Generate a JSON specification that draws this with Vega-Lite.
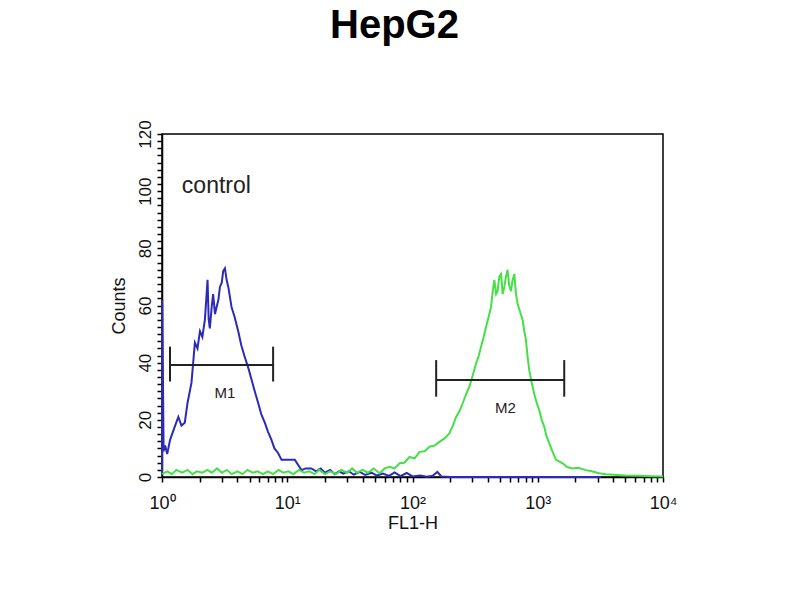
{
  "$schema": "https://vega.github.io/schema/vega-lite/v6.json",
  "description": "HepG2 flow cytometry histogram, control vs stained",
  "width": 501,
  "height": 343,
  "autosize": {"type": "none"},
  "padding": {"left": 162, "top": 134, "right": 137, "bottom": 123},
  "background": "white",
  "title": {
    "text": "HepG2",
    "font": "Liberation Sans",
    "fontSize": 40,
    "fontWeight": "bold",
    "color": "black",
    "anchor": "middle",
    "frame": "group",
    "baseline": "alphabetic",
    "dx": -18,
    "offset": 42
  },
  "config": {
    "font": "Liberation Sans",
    "view": {"stroke": "black", "strokeWidth": 1.5}
  },
  "datasets": {
    "hist": [
      {"series": "control", "fl": 1, "count": 1},
      {"series": "control", "fl": 1.005, "count": 62},
      {"series": "control", "fl": 1.03, "count": 9},
      {"series": "control", "fl": 1.06, "count": 11},
      {"series": "control", "fl": 1.1, "count": 8},
      {"series": "control", "fl": 1.16, "count": 13},
      {"series": "control", "fl": 1.25, "count": 17},
      {"series": "control", "fl": 1.35, "count": 21},
      {"series": "control", "fl": 1.43, "count": 18},
      {"series": "control", "fl": 1.52, "count": 19},
      {"series": "control", "fl": 1.6, "count": 26},
      {"series": "control", "fl": 1.72, "count": 33},
      {"series": "control", "fl": 1.83, "count": 47},
      {"series": "control", "fl": 1.92, "count": 45},
      {"series": "control", "fl": 2.01, "count": 51},
      {"series": "control", "fl": 2.1, "count": 49},
      {"series": "control", "fl": 2.2, "count": 55},
      {"series": "control", "fl": 2.31, "count": 69},
      {"series": "control", "fl": 2.36, "count": 55},
      {"series": "control", "fl": 2.41, "count": 52},
      {"series": "control", "fl": 2.5, "count": 60},
      {"series": "control", "fl": 2.56, "count": 64},
      {"series": "control", "fl": 2.65, "count": 57},
      {"series": "control", "fl": 2.73, "count": 59.5},
      {"series": "control", "fl": 2.82, "count": 62},
      {"series": "control", "fl": 2.9, "count": 66.5},
      {"series": "control", "fl": 3.0, "count": 68},
      {"series": "control", "fl": 3.08, "count": 72},
      {"series": "control", "fl": 3.18, "count": 73},
      {"series": "control", "fl": 3.28, "count": 69},
      {"series": "control", "fl": 3.4, "count": 66},
      {"series": "control", "fl": 3.59, "count": 59.5},
      {"series": "control", "fl": 3.8, "count": 56},
      {"series": "control", "fl": 4.06, "count": 51},
      {"series": "control", "fl": 4.3, "count": 46},
      {"series": "control", "fl": 4.58, "count": 42},
      {"series": "control", "fl": 4.9, "count": 38},
      {"series": "control", "fl": 5.19, "count": 34},
      {"series": "control", "fl": 5.5, "count": 30},
      {"series": "control", "fl": 5.85, "count": 26},
      {"series": "control", "fl": 6.2, "count": 22},
      {"series": "control", "fl": 6.62, "count": 19},
      {"series": "control", "fl": 7.0, "count": 16},
      {"series": "control", "fl": 7.48, "count": 13},
      {"series": "control", "fl": 7.9, "count": 10},
      {"series": "control", "fl": 8.45, "count": 8.4},
      {"series": "control", "fl": 9.0, "count": 6},
      {"series": "control", "fl": 9.55, "count": 6},
      {"series": "control", "fl": 10.5, "count": 6},
      {"series": "control", "fl": 11.5, "count": 6},
      {"series": "control", "fl": 12.3, "count": 4},
      {"series": "control", "fl": 13.0, "count": 2.4},
      {"series": "control", "fl": 14, "count": 3},
      {"series": "control", "fl": 15.6, "count": 3},
      {"series": "control", "fl": 17, "count": 2},
      {"series": "control", "fl": 18.5, "count": 3},
      {"series": "control", "fl": 20, "count": 1.5},
      {"series": "control", "fl": 22, "count": 2.5},
      {"series": "control", "fl": 24, "count": 1},
      {"series": "control", "fl": 26, "count": 2},
      {"series": "control", "fl": 28, "count": 1.2},
      {"series": "control", "fl": 31, "count": 2},
      {"series": "control", "fl": 34, "count": 0.8},
      {"series": "control", "fl": 38, "count": 1.8},
      {"series": "control", "fl": 42, "count": 0.7},
      {"series": "control", "fl": 47, "count": 1.5},
      {"series": "control", "fl": 52, "count": 0.5},
      {"series": "control", "fl": 58, "count": 1.2},
      {"series": "control", "fl": 65, "count": 0.4},
      {"series": "control", "fl": 72, "count": 1.6},
      {"series": "control", "fl": 80, "count": 0.3},
      {"series": "control", "fl": 90, "count": 1.4},
      {"series": "control", "fl": 100, "count": 0.2},
      {"series": "control", "fl": 115, "count": 0.5},
      {"series": "control", "fl": 130, "count": 0.1},
      {"series": "control", "fl": 145, "count": 0.4},
      {"series": "control", "fl": 158, "count": 1.8},
      {"series": "control", "fl": 170, "count": 0.2},
      {"series": "control", "fl": 200, "count": 0},
      {"series": "control", "fl": 300, "count": 0},
      {"series": "control", "fl": 600, "count": 0},
      {"series": "control", "fl": 1000, "count": 0},
      {"series": "control", "fl": 2000, "count": 0},
      {"series": "control", "fl": 3200, "count": 0},
      {"series": "HepG2", "fl": 1, "count": 1},
      {"series": "HepG2", "fl": 1.1, "count": 2},
      {"series": "HepG2", "fl": 1.2, "count": 1},
      {"series": "HepG2", "fl": 1.3, "count": 2.5},
      {"series": "HepG2", "fl": 1.45, "count": 1.5},
      {"series": "HepG2", "fl": 1.6, "count": 2.5},
      {"series": "HepG2", "fl": 1.75, "count": 1},
      {"series": "HepG2", "fl": 1.9, "count": 2},
      {"series": "HepG2", "fl": 2.1, "count": 1.5},
      {"series": "HepG2", "fl": 2.3, "count": 2.5},
      {"series": "HepG2", "fl": 2.5, "count": 1.5},
      {"series": "HepG2", "fl": 2.75, "count": 3},
      {"series": "HepG2", "fl": 3.0, "count": 1.5},
      {"series": "HepG2", "fl": 3.3, "count": 2.5},
      {"series": "HepG2", "fl": 3.6, "count": 1},
      {"series": "HepG2", "fl": 4.0, "count": 2},
      {"series": "HepG2", "fl": 4.4, "count": 1},
      {"series": "HepG2", "fl": 4.8, "count": 2.5},
      {"series": "HepG2", "fl": 5.3, "count": 1.5},
      {"series": "HepG2", "fl": 5.8, "count": 2},
      {"series": "HepG2", "fl": 6.4, "count": 1},
      {"series": "HepG2", "fl": 7.0, "count": 2},
      {"series": "HepG2", "fl": 7.7, "count": 1},
      {"series": "HepG2", "fl": 8.5, "count": 2.5},
      {"series": "HepG2", "fl": 9.3, "count": 1.5},
      {"series": "HepG2", "fl": 10.2, "count": 2},
      {"series": "HepG2", "fl": 11.2, "count": 1},
      {"series": "HepG2", "fl": 12.4, "count": 2.5},
      {"series": "HepG2", "fl": 13.6, "count": 1.5},
      {"series": "HepG2", "fl": 15, "count": 2},
      {"series": "HepG2", "fl": 16.5, "count": 1},
      {"series": "HepG2", "fl": 18, "count": 2.5},
      {"series": "HepG2", "fl": 20, "count": 1},
      {"series": "HepG2", "fl": 22, "count": 2},
      {"series": "HepG2", "fl": 24.5, "count": 1},
      {"series": "HepG2", "fl": 27, "count": 2.5},
      {"series": "HepG2", "fl": 30, "count": 1.5},
      {"series": "HepG2", "fl": 33, "count": 3},
      {"series": "HepG2", "fl": 36, "count": 1.5},
      {"series": "HepG2", "fl": 40, "count": 2.5},
      {"series": "HepG2", "fl": 44, "count": 1.5},
      {"series": "HepG2", "fl": 49, "count": 3},
      {"series": "HepG2", "fl": 54.6, "count": 1.3},
      {"series": "HepG2", "fl": 60, "count": 3},
      {"series": "HepG2", "fl": 65.6, "count": 3.6},
      {"series": "HepG2", "fl": 72, "count": 3},
      {"series": "HepG2", "fl": 78.8, "count": 4.8},
      {"series": "HepG2", "fl": 86, "count": 5},
      {"series": "HepG2", "fl": 94.7, "count": 7},
      {"series": "HepG2", "fl": 104, "count": 6.5},
      {"series": "HepG2", "fl": 113.7, "count": 8.8},
      {"series": "HepG2", "fl": 125, "count": 9},
      {"series": "HepG2", "fl": 136.6, "count": 10.6},
      {"series": "HepG2", "fl": 150, "count": 11},
      {"series": "HepG2", "fl": 164.1, "count": 12.3},
      {"series": "HepG2", "fl": 180, "count": 13.5},
      {"series": "HepG2", "fl": 197.2, "count": 15.3},
      {"series": "HepG2", "fl": 210, "count": 18},
      {"series": "HepG2", "fl": 222.9, "count": 21},
      {"series": "HepG2", "fl": 237, "count": 23},
      {"series": "HepG2", "fl": 251.6, "count": 25.8},
      {"series": "HepG2", "fl": 268, "count": 29},
      {"series": "HepG2", "fl": 284.7, "count": 31.6},
      {"series": "HepG2", "fl": 300, "count": 35},
      {"series": "HepG2", "fl": 321.9, "count": 39.8},
      {"series": "HepG2", "fl": 336, "count": 42},
      {"series": "HepG2", "fl": 352.5, "count": 45.6},
      {"series": "HepG2", "fl": 370, "count": 49},
      {"series": "HepG2", "fl": 386.4, "count": 52.5},
      {"series": "HepG2", "fl": 405, "count": 56},
      {"series": "HepG2", "fl": 423.6, "count": 59.5},
      {"series": "HepG2", "fl": 437, "count": 65},
      {"series": "HepG2", "fl": 450, "count": 69},
      {"series": "HepG2", "fl": 465, "count": 64},
      {"series": "HepG2", "fl": 478, "count": 65},
      {"series": "HepG2", "fl": 493, "count": 70},
      {"series": "HepG2", "fl": 509, "count": 71},
      {"series": "HepG2", "fl": 525, "count": 64},
      {"series": "HepG2", "fl": 541, "count": 66.5},
      {"series": "HepG2", "fl": 557, "count": 70},
      {"series": "HepG2", "fl": 574, "count": 72.5},
      {"series": "HepG2", "fl": 592, "count": 67},
      {"series": "HepG2", "fl": 611, "count": 65},
      {"series": "HepG2", "fl": 630, "count": 69},
      {"series": "HepG2", "fl": 650, "count": 71},
      {"series": "HepG2", "fl": 670, "count": 64},
      {"series": "HepG2", "fl": 690, "count": 60.7},
      {"series": "HepG2", "fl": 720, "count": 58},
      {"series": "HepG2", "fl": 757, "count": 55},
      {"series": "HepG2", "fl": 780, "count": 51},
      {"series": "HepG2", "fl": 805, "count": 48},
      {"series": "HepG2", "fl": 830, "count": 42},
      {"series": "HepG2", "fl": 855, "count": 37.4},
      {"series": "HepG2", "fl": 895, "count": 33},
      {"series": "HepG2", "fl": 938, "count": 29},
      {"series": "HepG2", "fl": 980, "count": 26},
      {"series": "HepG2", "fl": 1028, "count": 23.4},
      {"series": "HepG2", "fl": 1075, "count": 20},
      {"series": "HepG2", "fl": 1127, "count": 17.6},
      {"series": "HepG2", "fl": 1180, "count": 14},
      {"series": "HepG2", "fl": 1236, "count": 11.8},
      {"series": "HepG2", "fl": 1310, "count": 9},
      {"series": "HepG2", "fl": 1396, "count": 6},
      {"series": "HepG2", "fl": 1480, "count": 5.5},
      {"series": "HepG2", "fl": 1577, "count": 4.8},
      {"series": "HepG2", "fl": 1720, "count": 3.5},
      {"series": "HepG2", "fl": 1893, "count": 3},
      {"series": "HepG2", "fl": 2100, "count": 3.2},
      {"series": "HepG2", "fl": 2420, "count": 2.4},
      {"series": "HepG2", "fl": 2700, "count": 2},
      {"series": "HepG2", "fl": 3090, "count": 1.3},
      {"series": "HepG2", "fl": 3500, "count": 1},
      {"series": "HepG2", "fl": 4000, "count": 0.8},
      {"series": "HepG2", "fl": 5000, "count": 0.5},
      {"series": "HepG2", "fl": 6500, "count": 0.4},
      {"series": "HepG2", "fl": 8000, "count": 0.3},
      {"series": "HepG2", "fl": 10000, "count": 0.2}
    ],
    "gates": [
      {"gate": "M1", "fl": 1.158, "fl2": 7.71, "count": 39.2, "count2": 39.2},
      {"gate": "M1", "fl": 1.158, "fl2": 1.158, "count": 33.4, "count2": 45.6},
      {"gate": "M1", "fl": 7.71, "fl2": 7.71, "count": 33.4, "count2": 45.6},
      {"gate": "M2", "fl": 154.5, "fl2": 1627, "count": 33.9, "count2": 33.9},
      {"gate": "M2", "fl": 154.5, "fl2": 154.5, "count": 28.1, "count2": 40.9},
      {"gate": "M2", "fl": 1627, "fl2": 1627, "count": 28.1, "count2": 40.9}
    ],
    "gateLabels": [
      {"label": "M1", "fl": 3.18, "count": 29.5},
      {"label": "M2", "fl": 551, "count": 24.3}
    ],
    "notes": [
      {"label": "control", "fl": 1.44, "count": 101.7}
    ]
  },
  "encoding": {
    "x": {
      "field": "fl",
      "type": "quantitative",
      "scale": {"type": "log", "domain": [1, 10000], "nice": false},
      "axis": {
        "title": "FL1-H",
        "values": [1, 2, 3, 4, 5, 6, 7, 8, 9, 10, 20, 30, 40, 50, 60, 70, 80, 90, 100, 200, 300, 400, 500, 600, 700, 800, 900, 1000, 2000, 3000, 4000, 5000, 6000, 7000, 8000, 9000, 10000],
        "labelExpr": "indexof([1, 10, 100, 1000, 10000], datum.value) >= 0 ? '10' + ['⁰', '¹', '²', '³', '⁴'][indexof([1, 10, 100, 1000, 10000], datum.value)] : ''",
        "labelFlush": false,
        "labelOverlap": false,
        "labelFontSize": 18,
        "labelColor": "#111",
        "labelPadding": 12,
        "tickSize": 5,
        "tickColor": "black",
        "tickWidth": 1.5,
        "domainColor": "black",
        "domainWidth": 1.5,
        "grid": false,
        "titleFontSize": 18,
        "titleFontWeight": "normal",
        "titleColor": "#111",
        "titlePadding": 2
      }
    },
    "y": {
      "field": "count",
      "type": "quantitative",
      "scale": {"domain": [0, 120], "nice": false},
      "axis": {
        "title": "Counts",
        "values": [0, 2.5, 5, 7.5, 10, 12.5, 15, 17.5, 20, 22.5, 25, 27.5, 30, 32.5, 35, 37.5, 40, 42.5, 45, 47.5, 50, 52.5, 55, 57.5, 60, 62.5, 65, 67.5, 70, 72.5, 75, 77.5, 80, 82.5, 85, 87.5, 90, 92.5, 95, 97.5, 100, 102.5, 105, 107.5, 110, 112.5, 115, 117.5, 120],
        "labelExpr": "datum.value % 20 === 0 ? datum.label : ''",
        "labelAngle": -90,
        "labelAlign": "center",
        "labelBaseline": "alphabetic",
        "labelOverlap": false,
        "labelFlush": false,
        "labelFontSize": 17,
        "labelColor": "#111",
        "labelPadding": 7,
        "tickSize": 5,
        "tickColor": "black",
        "tickWidth": 1.5,
        "domainColor": "black",
        "domainWidth": 1.5,
        "grid": false,
        "titleFontSize": 18,
        "titleFontWeight": "normal",
        "titleColor": "#111",
        "titlePadding": 8
      }
    }
  },
  "layer": [
    {
      "data": {"name": "hist"},
      "mark": {"type": "line", "strokeWidth": 2},
      "encoding": {
        "color": {
          "field": "series",
          "type": "nominal",
          "scale": {"domain": ["control", "HepG2"], "range": ["#2b2bb8", "#45e045"]},
          "legend": null
        }
      }
    },
    {
      "data": {"name": "gates"},
      "mark": {"type": "rule", "color": "#222", "strokeWidth": 2},
      "encoding": {
        "x2": {"field": "fl2"},
        "y2": {"field": "count2"}
      }
    },
    {
      "data": {"name": "gateLabels"},
      "mark": {"type": "text", "fontSize": 15, "color": "#222", "align": "center", "baseline": "middle"},
      "encoding": {
        "text": {"field": "label"}
      }
    },
    {
      "data": {"name": "notes"},
      "mark": {"type": "text", "fontSize": 23, "color": "#222", "align": "left", "baseline": "middle"},
      "encoding": {
        "text": {"field": "label"}
      }
    }
  ]
}
